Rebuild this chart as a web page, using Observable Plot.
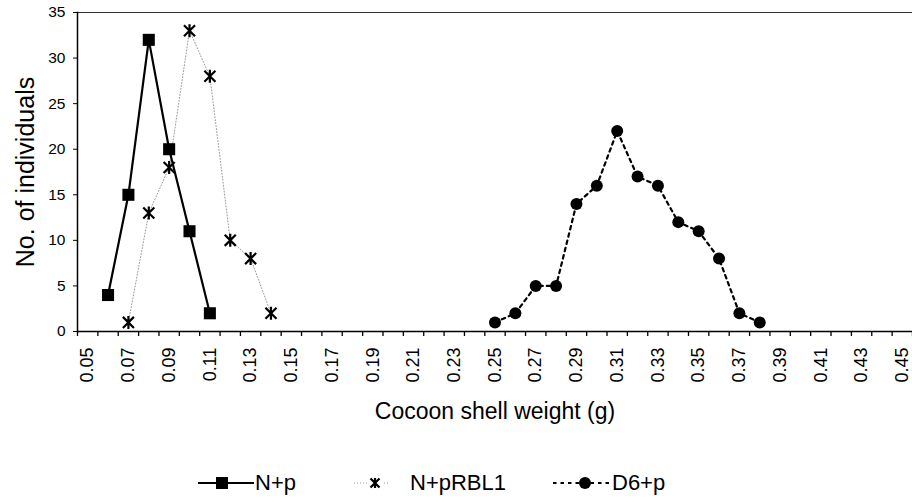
<!DOCTYPE html>
<html>
<head>
<meta charset="utf-8">
<script src="https://cdn.jsdelivr.net/npm/d3@7"></script>
<script src="https://cdn.jsdelivr.net/npm/@observablehq/plot@0.6"></script>
<style>
  body { margin: 0; background: #fff; font-family: Arial, "Liberation Sans", sans-serif; }
  #wrap { position: relative; width: 912px; height: 504px; overflow: hidden; }
  #legend { position: absolute; top: 469px; left: 0; width: 912px; height: 28px; }
  .item { position: absolute; top: 0; height: 28px; display: flex; align-items: center; font-size: 22px; color: #000; }
  .item svg { display: block; }
</style>
</head>
<body>
<div id="wrap">
  <div id="chart"></div>
  <div id="legend"></div>
</div>
<script>
// ---- data ----
const seriesNames = ["N+p", "N+pRBL1", "D6+p"];
const npWeight = [0.06, 0.07, 0.08, 0.09, 0.10, 0.11];
const npCount = [4, 15, 32, 20, 11, 2];
const rblWeight = [0.07, 0.08, 0.09, 0.10, 0.11, 0.12, 0.13, 0.14];
const rblCount = [1, 13, 18, 33, 28, 10, 8, 2];
const d6Weight = [0.25, 0.26, 0.27, 0.28, 0.29, 0.30, 0.31, 0.32, 0.33, 0.34, 0.35, 0.36, 0.37, 0.38];
const d6Count = [1, 2, 5, 5, 14, 16, 22, 17, 16, 12, 11, 8, 2, 1];
const xTickLabels = [0.05, 0.07, 0.09, 0.11, 0.13, 0.15, 0.17, 0.19, 0.21, 0.23, 0.25, 0.27, 0.29, 0.31, 0.33, 0.35, 0.37, 0.39, 0.41, 0.43, 0.45];
const yTicks = [0, 5, 10, 15, 20, 25, 30, 35];
const xLabel = "Cocoon shell weight (g)";
const yLabel = "No. of individuals";

// category boundaries (Excel category axis ticks between categories)
const catStep = 0.01;
const xDomain = [xTickLabels[0] - catStep / 2, xTickLabels[xTickLabels.length - 1] + catStep / 2];
const boundaries = d3.range(0, Math.round((xDomain[1] - xDomain[0]) / catStep) + 1).map(k => xDomain[0] + k * catStep);

const np = npWeight.map((w, i) => ({w, n: npCount[i]}));
const rbl = rblWeight.map((w, i) => ({w, n: rblCount[i]}));
const d6 = d6Weight.map((w, i) => ({w, n: d6Count[i]}));

const star = {
  draw(ctx, size) {
    const r = Math.sqrt(size / Math.PI);
    const d = r * 0.85;
    ctx.moveTo(-d, -d); ctx.lineTo(d, d);
    ctx.moveTo(d, -d); ctx.lineTo(-d, d);
    ctx.moveTo(0, -r); ctx.lineTo(0, r);
  }
};

const chart = Plot.plot({
  width: 912,
  height: 430,
  marginTop: 12,
  marginBottom: 99,
  marginLeft: 77,
  marginRight: 0,
  style: {fontFamily: "Arial, 'Liberation Sans', sans-serif", color: "#000", background: "#fff"},
  x: {type: "linear", domain: xDomain},
  y: {domain: [0, 35]},
  marks: [
    Plot.frame({anchor: "top", stroke: "#333", strokeWidth: 1.2}),
    Plot.frame({anchor: "left", stroke: "#000", strokeWidth: 1.5}),
    Plot.frame({anchor: "bottom", stroke: "#000", strokeWidth: 1.5}),
    Plot.axisY({ticks: yTicks, tickSize: 4, tickPadding: 8, fontSize: 15.5, label: null, tickFormat: d => String(d)}),
    Plot.axisX({ticks: boundaries, tickSize: 5, tickFormat: () => "", label: null, strokeWidth: 1.3}),
    Plot.axisX({ticks: xTickLabels, tickSize: 0, tickPadding: 16, tickRotate: -90, fontSize: 18, label: null, tickFormat: d3.format(".2f")}),
    Plot.text([yLabel], {frameAnchor: "left", text: d => d, rotate: -90, dx: -52, fontSize: 25, textAnchor: "middle", lineAnchor: "middle"}),
    Plot.text([xLabel], {frameAnchor: "bottom", text: d => d, dy: 80, fontSize: 23, textAnchor: "middle", lineAnchor: "middle"}),
    Plot.line(d6, {x: "w", y: "n", stroke: "#000", strokeWidth: 2.2, strokeDasharray: "3.5,4"}),
    Plot.line(rbl, {x: "w", y: "n", stroke: "#9a9a9a", strokeWidth: 1, strokeDasharray: "1,2"}),
    Plot.line(np, {x: "w", y: "n", stroke: "#000", strokeWidth: 2.2}),
    Plot.dot(d6, {x: "w", y: "n", r: 6, fill: "#000", symbol: "circle"}),
    Plot.dot(rbl, {x: "w", y: "n", r: 6.5, stroke: "#000", strokeWidth: 2.2, fill: "none", symbol: star}),
    Plot.dot(np, {x: "w", y: "n", r: 6.8, fill: "#000", symbol: "square"})
  ]
});
document.getElementById("chart").appendChild(chart);

// ---- legend ----
const legend = document.getElementById("legend");
const items = [
  {name: seriesNames[0], left: 198, sw: 56, line: {stroke: "#000", width: 2.2, dash: null, x1: 0, x2: 56}, marker: "square", mx: 24, gap: 1},
  {name: seriesNames[1], left: 354, sw: 40, line: {stroke: "#9a9a9a", width: 1, dash: "1,2", x1: 0, x2: 36}, marker: "star", mx: 21, gap: 16},
  {name: seriesNames[2], left: 553, sw: 57, line: {stroke: "#000", width: 2.2, dash: "3.5,4", x1: 0, x2: 57}, marker: "circle", mx: 32, gap: 2}
];
const ns = "http://www.w3.org/2000/svg";
for (const it of items) {
  const div = document.createElement("div");
  div.className = "item";
  div.style.left = it.left + "px";
  const svg = document.createElementNS(ns, "svg");
  svg.setAttribute("width", it.sw);
  svg.setAttribute("height", 28);
  const ln = document.createElementNS(ns, "line");
  ln.setAttribute("x1", it.line.x1); ln.setAttribute("x2", it.line.x2);
  ln.setAttribute("y1", 14); ln.setAttribute("y2", 14);
  ln.setAttribute("stroke", it.line.stroke);
  ln.setAttribute("stroke-width", it.line.width);
  if (it.line.dash) ln.setAttribute("stroke-dasharray", it.line.dash);
  svg.appendChild(ln);
  const cx = it.mx, cy = 14;
  if (it.marker === "square") {
    const r = document.createElementNS(ns, "rect");
    r.setAttribute("x", cx - 6); r.setAttribute("y", cy - 6);
    r.setAttribute("width", 12); r.setAttribute("height", 12);
    r.setAttribute("fill", "#000");
    svg.appendChild(r);
  } else if (it.marker === "circle") {
    const c = document.createElementNS(ns, "circle");
    c.setAttribute("cx", cx); c.setAttribute("cy", cy); c.setAttribute("r", 6);
    c.setAttribute("fill", "#000");
    svg.appendChild(c);
  } else {
    const bg = document.createElementNS(ns, "rect");
    bg.setAttribute("x", cx - 7); bg.setAttribute("y", 0); bg.setAttribute("width", 14); bg.setAttribute("height", 28);
    bg.setAttribute("fill", "#fff");
    svg.appendChild(bg);
    const p = document.createElementNS(ns, "path");
    const d = 4.5, rr = 5;
    p.setAttribute("d", `M${cx-d},${cy-d}L${cx+d},${cy+d}M${cx+d},${cy-d}L${cx-d},${cy+d}M${cx},${cy-rr}L${cx},${cy+rr}`);
    p.setAttribute("stroke", "#000"); p.setAttribute("stroke-width", 2.2); p.setAttribute("fill", "none");
    svg.appendChild(p);
  }
  div.appendChild(svg);
  const t = document.createElement("span");
  t.textContent = it.name;
  t.style.marginLeft = it.gap + "px";
  div.appendChild(t);
  legend.appendChild(div);
}
</script>
</body>
</html>
